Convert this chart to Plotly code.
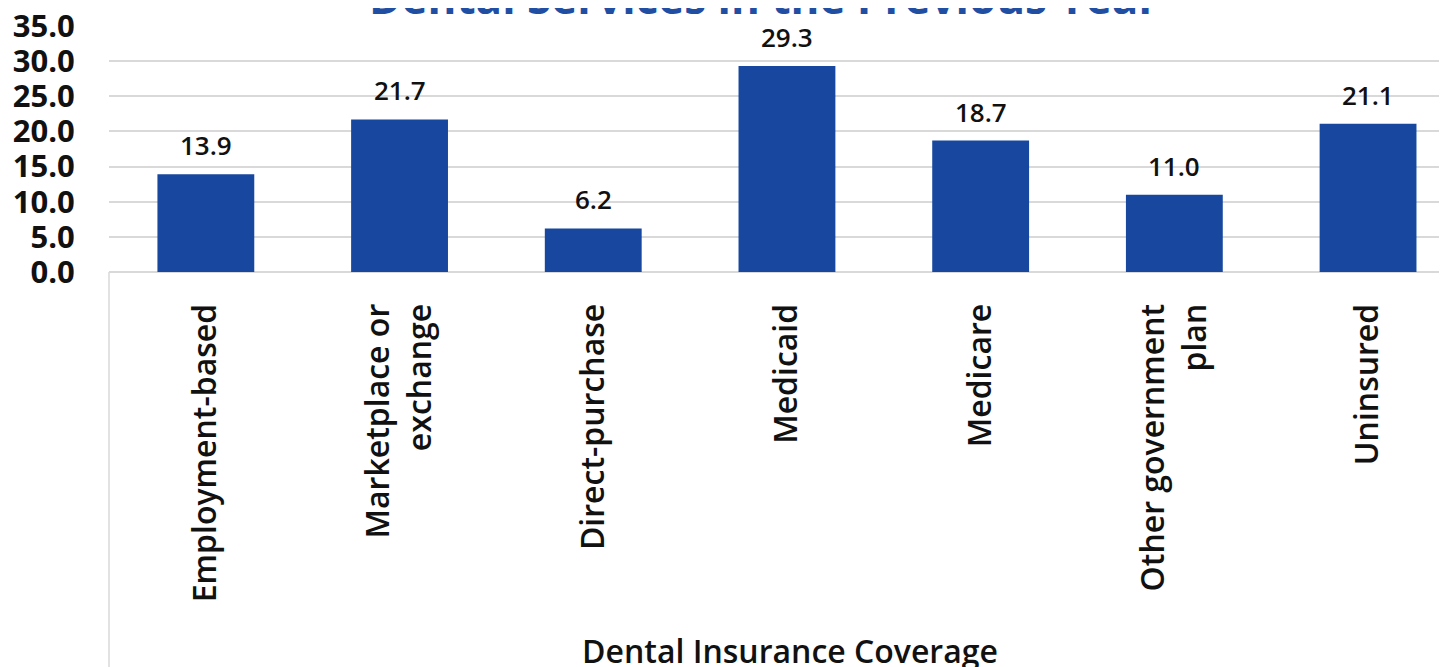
import plotly.graph_objects as go

categories = ["Employment-based", "Marketplace or<br>exchange", "Direct-purchase",
              "Medicaid", "Medicare", "Other government<br>plan", "Uninsured"]
values = [13.9, 21.7, 6.2, 29.3, 18.7, 11.0, 21.1]
y_ticks = [0, 5, 10, 15, 20, 25, 30, 35]
y_tick_labels = ["0.0", "5.0", "10.0", "15.0", "20.0", "25.0", "30.0", "35.0"]
title_text = "Dental Services in the Previous Year"
x_title = "Dental Insurance Coverage"

W, H = 1447, 667
OFF = 8  # page body margin offset
L, R, T, B = 109 - OFF, 0, 26 - OFF, 667 - 272 + OFF
FONT = "Open Sans"
BAR = "#17479E"

fig = go.Figure()
fig.add_trace(go.Bar(
    x=list(range(len(categories))), y=values,
    marker=dict(color=BAR, line=dict(width=0)),
    width=0.5, hoverinfo="skip",
))

for i, v in enumerate(values):
    fig.add_annotation(
        x=i, y=v, xref="x", yref="y", text=f"{v:.1f}", showarrow=False,
        yanchor="bottom", yshift=9,
        font=dict(family=FONT, size=26, color="#111111", weight=600),
    )

plot_w = W - L - R
plot_h = H - T - B
step_px = 193.7
x_max = -0.5 + plot_w / step_px

fig.update_layout(
    width=W, height=H,
    margin=dict(l=L, r=R, t=T, b=B, pad=0, autoexpand=False),
    plot_bgcolor="white", paper_bgcolor="white",
    showlegend=False,
    xaxis=dict(
        range=[-0.5, x_max], automargin=False,
        tickmode="array", tickvals=list(range(len(categories))), ticktext=categories,
        tickangle=-90, ticks="outside", ticklen=18, tickcolor="rgba(0,0,0,0)",
        tickfont=dict(family=FONT, size=32, color="#111111", weight=600),
        showgrid=False, showline=False, zeroline=False,
        ticklabeloverflow="allow",
    ),
    yaxis=dict(
        range=[0, 35], automargin=False,
        tickmode="array", tickvals=y_ticks, ticktext=y_tick_labels,
        ticks="outside", ticklen=27, tickcolor="rgba(0,0,0,0)",
        tickfont=dict(family=FONT, size=31, color="#111111", weight=700),
        showgrid=True, gridcolor="#d9d9d9", gridwidth=1.5,
        zeroline=True, zerolinecolor="#d9d9d9", zerolinewidth=1.5,
        showline=False, ticklabeloverflow="allow",
    ),
)

# left border line of the category-label area
fig.add_shape(type="line", xref="paper", yref="paper",
              x0=0, x1=0, y0=0, y1=-B / plot_h - 0.05,
              line=dict(color="#d9d9d9", width=1.5))


def px_to_paper_x(px):
    return (px - OFF - L) / plot_w


def px_to_paper_y(py):
    return (H - B - (py - OFF)) / plot_h


fig.add_annotation(
    xref="paper", yref="paper",
    x=px_to_paper_x(790), y=px_to_paper_y(650),
    text=x_title, showarrow=False, xanchor="center", yanchor="middle",
    font=dict(family=FONT, size=32, color="#111111", weight=600),
)
fig.add_annotation(
    xref="paper", yref="paper",
    x=px_to_paper_x(763), y=px_to_paper_y(-3),
    text=title_text, showarrow=False, xanchor="center", yanchor="middle",
    font=dict(family=FONT, size=44, color="#1F4EA3", weight=700),
)

fig.write_html("out.html")
